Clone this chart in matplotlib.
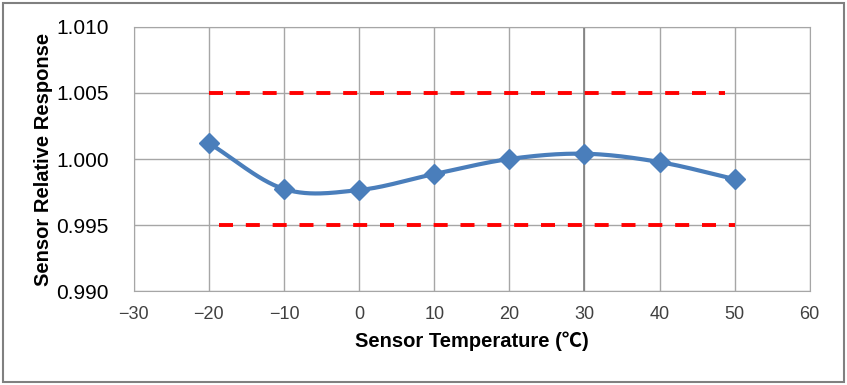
import numpy as np
import matplotlib.pyplot as plt
from matplotlib.patches import Rectangle

plt.rcParams['font.family'] = ['Liberation Sans', 'Noto Sans CJK KR', 'DejaVu Sans']

temps = [-20, -10, 0, 10, 20, 30, 40, 50]
response = [1.0012, 0.99773, 0.99765, 0.99886, 1.0000, 1.0004, 0.99977, 0.99848]

upper_x = [-20, 48.7]
upper_y = [1.005, 1.005]
lower_x = [-18.7, 50]
lower_y = [0.995, 0.995]

xticks = [-30, -20, -10, 0, 10, 20, 30, 40, 50, 60]
yticks = [0.990, 0.995, 1.000, 1.005, 1.010]


def smooth(x, y, n=30):
    # Catmull-Rom style smoothing, like Excel's "smoothed line"
    x = np.asarray(x, float)
    y = np.asarray(y, float)
    px = np.concatenate([[2 * x[0] - x[1]], x, [2 * x[-1] - x[-2]]])
    py = np.concatenate([[2 * y[0] - y[1]], y, [2 * y[-1] - y[-2]]])
    xs, ys = [], []
    t = np.linspace(0, 1, n)
    for i in range(1, len(px) - 2):
        for p, out in ((px, xs), (py, ys)):
            p0, p1, p2, p3 = p[i - 1], p[i], p[i + 1], p[i + 2]
            c1 = p1 + (p2 - p0) / 6
            c2 = p2 - (p3 - p1) / 6
            out.extend((1 - t) ** 3 * p1 + 3 * (1 - t) ** 2 * t * c1
                       + 3 * (1 - t) * t ** 2 * c2 + t ** 3 * p2)
    return np.array(xs), np.array(ys)


fig = plt.figure(figsize=(8.47, 3.85), dpi=100)
ax = fig.add_axes([0.158, 0.244, 0.798, 0.686])

blue = '#4A7EBB'
sx, sy = smooth(temps, response)
ax.plot(sx, sy, color=blue, lw=3, zorder=3)
ax.plot(temps, response, ls='none', marker='D', ms=10.5, color=blue, zorder=4)

ax.plot(upper_x, upper_y, color='#FF0000', lw=2.8, dashes=(3.6, 3.3), zorder=2)
ax.plot(lower_x, lower_y, color='#FF0000', lw=2.8, dashes=(3.6, 3.3), zorder=2)

ax.set_xlim(-30, 60)
ax.set_ylim(0.990, 1.010)
ax.set_xticks(xticks)
ax.set_xticklabels([str(v).replace('-', '\u2212') for v in xticks], fontsize=13, color='#404040')
ax.set_yticks(yticks)
ax.set_yticklabels(['%.3f' % v for v in yticks], fontsize=15)
ax.tick_params(axis='x', length=0, pad=11)
ax.tick_params(axis='y', length=0, pad=18)
ax.grid(True, color='#A6A6A6', lw=1)
ax.axvline(30, color='#7F7F7F', lw=1.2, zorder=1)
ax.set_axisbelow(True)
for s in ax.spines.values():
    s.set_color('#A6A6A6')

ax.set_xlabel('Sensor Temperature (\u2103)', fontsize=14.5, fontweight='bold', labelpad=6)
ax.set_ylabel('Sensor Relative Response', fontsize=14.5, fontweight='bold', labelpad=2)

fig.patches.append(Rectangle((0.004, 0.008), 0.992, 0.984, transform=fig.transFigure,
                             fill=False, edgecolor='#808080', lw=1.5))

fig.savefig('out.png', dpi=100)
